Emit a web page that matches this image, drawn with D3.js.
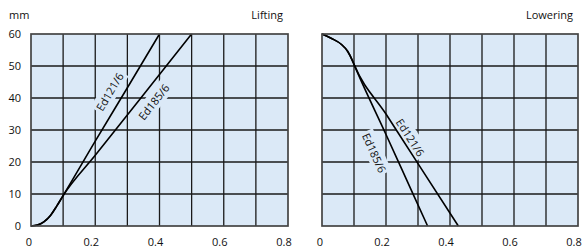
<!DOCTYPE html>
<html>
<head>
<meta charset="utf-8">
<script src="https://cdn.jsdelivr.net/npm/d3@7"></script>
<style>
  body { margin: 0; background: #fff; }
  svg { display: block; font-family: "Open Sans", sans-serif; }
</style>
</head>
<body>
<svg id="chart" width="583" height="251"></svg>
<script>
// tick values
const xTicks = [0, 0.2, 0.4, 0.6, 0.8];
const yTicks = [0, 10, 20, 30, 40, 50, 60];

// [speed, travel mm]
const liftEd121 = [[0, 0], [0.02, 0.3], [0.04, 1.3], [0.06, 3.2], [0.08, 6.2], [0.1, 9.5], [0.2, 26.5], [0.3, 43.2], [0.4, 60]];
const liftEd185 = [[0, 0], [0.02, 0.3], [0.04, 1.3], [0.06, 3.2], [0.08, 6.2], [0.1, 9.5], [0.2, 22.1], [0.35, 41], [0.5, 60]];
const lowerEd121 = [[0, 60], [0.03, 58.6], [0.06, 56.8], [0.08, 54.6], [0.095, 51.7], [0.1, 50.5], [0.2, 35], [0.3, 19.5], [0.426, 0]];
const lowerEd185 = [[0, 60], [0.03, 58.6], [0.06, 56.8], [0.08, 54.6], [0.095, 51.7], [0.1, 50.5], [0.2, 28.6], [0.25, 17.6], [0.33, 0]];

// label anchors [x, y] in data units
const liftLabels = [{name: "Ed121/6", at: [0.246, 41.9], line: liftEd121},
                    {name: "Ed185/6", at: [0.383, 38.7], line: liftEd185}];
const lowerLabels = [{name: "Ed121/6", at: [0.275, 27.6], line: lowerEd121},
                     {name: "Ed185/6", at: [0.162, 22.8], line: lowerEd185}];

const svg = d3.select("#chart");
const bg = "#dbe9f7";
const gridColor = "#1a1a1a";

function panel(left, right, title, curves, labels, showY) {
    const top = 34, bottom = 226;
    const x = d3.scaleLinear().domain([0, 0.8]).range([left, right]);
    const y = d3.scaleLinear().domain([0, 60]).range([bottom, top]);
    const g = svg.append("g");

    g.append("rect")
        .attr("x", left).attr("y", top)
        .attr("width", right - left).attr("height", bottom - top)
        .attr("fill", bg);

    // grid
    g.selectAll(".vg").data(d3.range(1, 8).map(i => i / 10)).join("line")
        .attr("x1", d => x(d)).attr("x2", d => x(d))
        .attr("y1", top).attr("y2", bottom)
        .attr("stroke", gridColor).attr("stroke-width", 1.3);
    g.selectAll(".hg").data(yTicks.slice(1, -1)).join("line")
        .attr("y1", d => y(d)).attr("y2", d => y(d))
        .attr("x1", left).attr("x2", right)
        .attr("stroke", gridColor).attr("stroke-width", 1.3);

    // labels with a mask box hiding the grid
    labels.forEach(l => {
        const a = l.line[l.line.length - 2], b = l.line[l.line.length - 1];
        let ang = Math.atan2(y(b[1]) - y(a[1]), x(b[0]) - x(a[0])) * 180 / Math.PI;
        if (ang > 90) ang -= 180;
        if (ang < -90) ang += 180;
        const lg = g.append("g")
            .attr("transform", `translate(${x(l.at[0])},${y(l.at[1])}) rotate(${ang})`);
        const r = lg.append("rect").attr("fill", bg);
        const t = lg.append("text")
            .attr("text-anchor", "middle")
            .attr("dy", "0.35em")
            .attr("font-size", 11)
            .attr("fill", "#111")
            .text(l.name);
        const bb = t.node().getBBox();
        r.attr("x", bb.x - 2).attr("y", bb.y - 1)
            .attr("width", bb.width + 4).attr("height", bb.height + 2);
    });

    const line = d3.line().x(d => x(d[0])).y(d => y(d[1])).curve(d3.curveMonotoneX);
    curves.forEach(c => {
        g.append("path").datum(c)
            .attr("fill", "none").attr("stroke", "#000")
            .attr("stroke-width", 1.6)
            .attr("d", line);
    });

    // frame
    g.append("rect")
        .attr("x", left).attr("y", top)
        .attr("width", right - left).attr("height", bottom - top)
        .attr("fill", "none").attr("stroke", "#444").attr("stroke-width", 1.7);

    // x tick labels
    g.selectAll(".xt").data(xTicks).join("text")
        .attr("x", d => x(d) + (d === 0 ? -2 : -4)).attr("y", 246)
        .attr("text-anchor", "middle")
        .attr("font-size", 11).attr("fill", "#111")
        .text(d => d === 0 ? "0" : d3.format(".1f")(d));

    if (showY) {
        g.selectAll(".yt").data(yTicks).join("text")
            .attr("x", 21).attr("y", d => y(d))
            .attr("dy", "0.35em")
            .attr("text-anchor", "end")
            .attr("font-size", 11).attr("fill", "#111")
            .text(d => d);
        g.append("text").attr("x", 9).attr("y", 19)
            .attr("font-size", 11).attr("fill", "#111").text("mm");
    }

    g.append("text").attr("x", right - 5).attr("y", 19)
        .attr("text-anchor", "end")
        .attr("font-size", 11).attr("fill", "#111").text(title);
}

panel(31, 288, "Lifting", [liftEd121, liftEd185], liftLabels, true);
panel(322, 578, "Lowering", [lowerEd121, lowerEd185], lowerLabels, false);
</script>
</body>
</html>
